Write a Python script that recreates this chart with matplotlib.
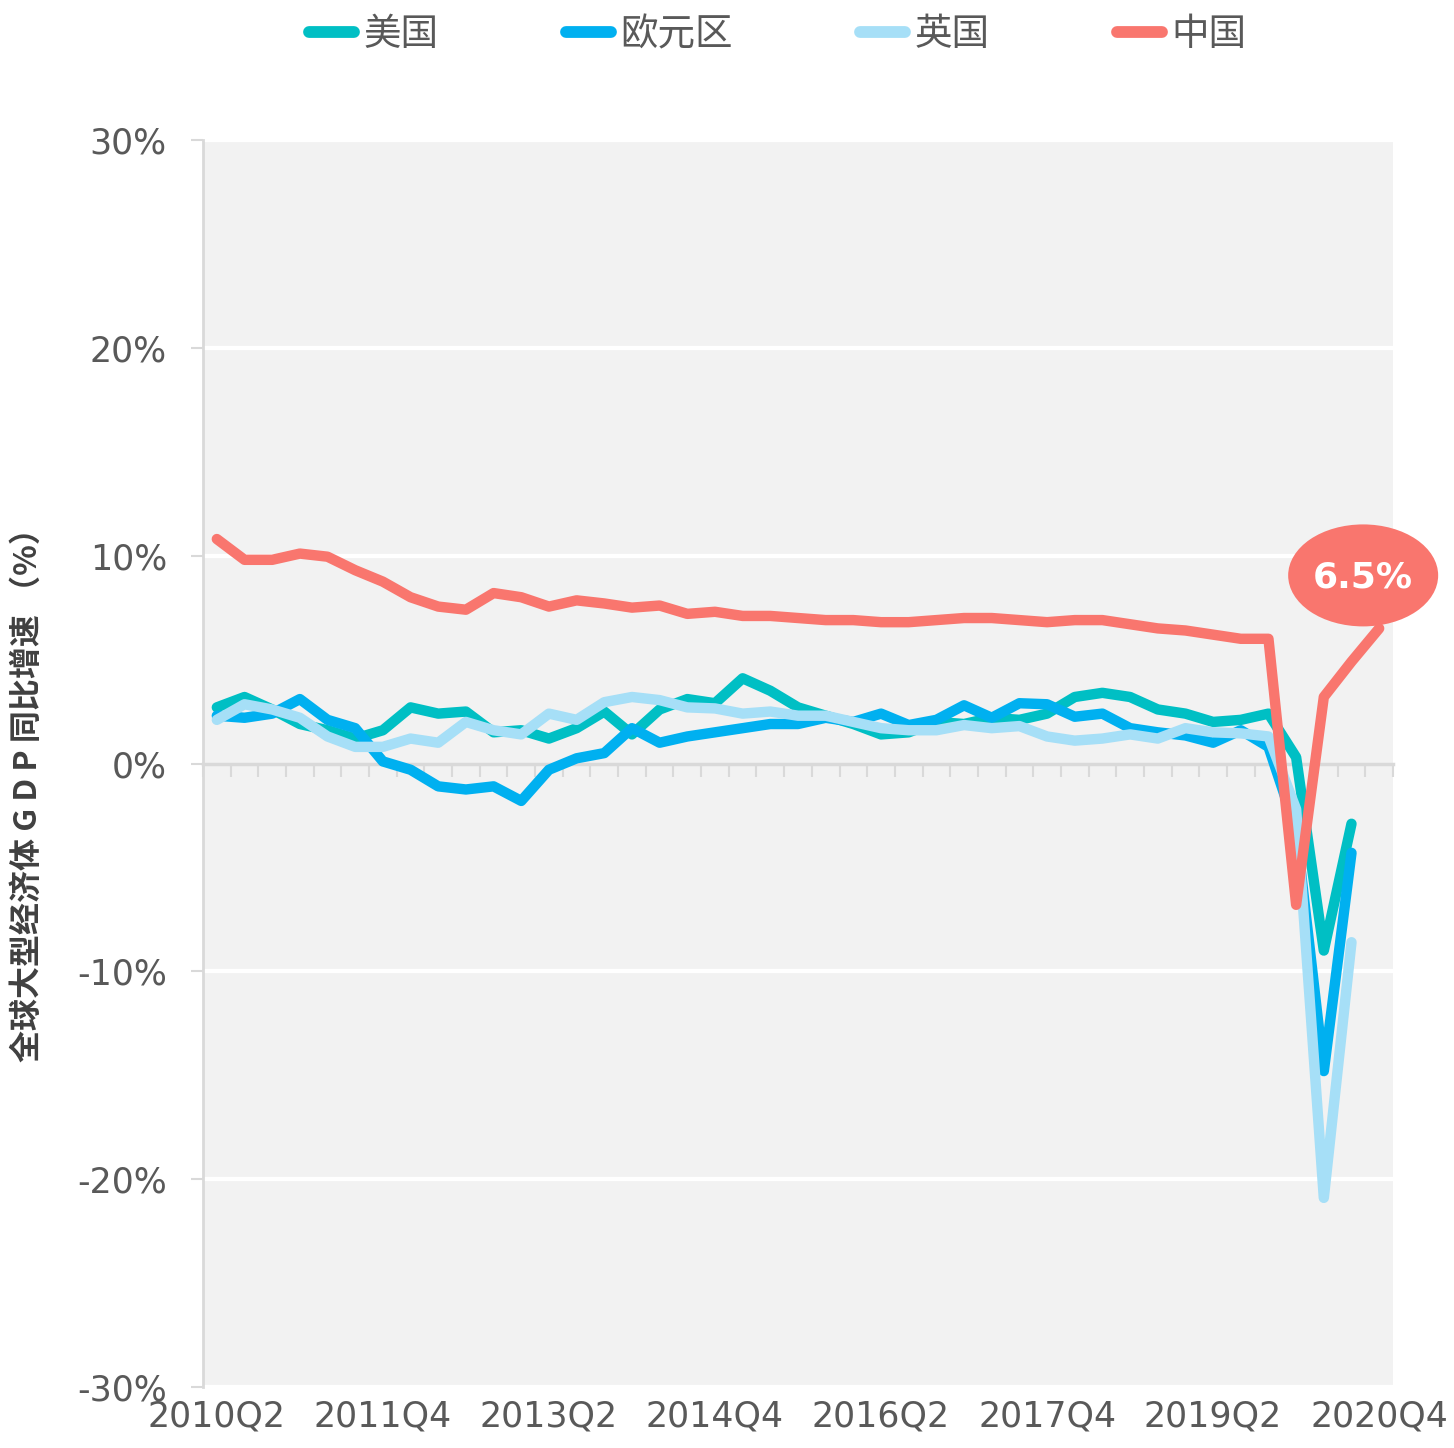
import numpy as np
import matplotlib
matplotlib.use("Agg")
import matplotlib.pyplot as plt
from matplotlib.patches import Ellipse
import matplotlib.transforms as mtransforms

plt.rcParams['font.family'] = ['Noto Sans CJK SC', 'DejaVu Sans']

# ---------------- data ----------------
quarters = [f"{y}Q{q}" for y in range(2010, 2021) for q in range(1, 5)][1:]  # 2010Q2..2020Q4
tick_labels = ["2010Q2", "2011Q4", "2013Q2", "2014Q4", "2016Q2", "2017Q4", "2019Q2", "2020Q4"]

series_names = ["美国", "欧元区", "英国", "中国"]

us = [2.7, 3.2, 2.6, 1.9, 1.6, 1.2, 1.6, 2.7, 2.4, 2.5, 1.5, 1.6, 1.2, 1.7, 2.5,
      1.4, 2.6, 3.1, 2.9, 4.1, 3.5, 2.7, 2.3, 1.9, 1.4, 1.5, 2.0, 1.9, 2.2, 2.1,
      2.4, 3.2, 3.4, 3.2, 2.6, 2.4, 2.0, 2.1, 2.4, 0.3, -9.0, -2.9]
euro = [2.3, 2.2, 2.4, 3.1, 2.1, 1.7, 0.1, -0.3, -1.1, -1.25, -1.1, -1.8, -0.3, 0.25, 0.5,
        1.7, 1.0, 1.3, 1.5, 1.7, 1.9, 1.9, 2.2, 2.0, 2.4, 1.85, 2.1, 2.8, 2.2, 2.9,
        2.85, 2.25, 2.4, 1.7, 1.5, 1.35, 1.0, 1.6, 0.8, -3.2, -14.8, -4.3]
uk = [2.1, 2.85, 2.6, 2.2, 1.3, 0.8, 0.8, 1.2, 1.0, 2.0, 1.6, 1.4, 2.4, 2.1, 2.95,
      3.2, 3.05, 2.7, 2.65, 2.4, 2.5, 2.3, 2.3, 2.0, 1.7, 1.6, 1.6, 1.85, 1.7, 1.8,
      1.3, 1.1, 1.2, 1.4, 1.2, 1.7, 1.5, 1.45, 1.3, -2.2, -20.9, -8.6]
china = [10.8, 9.8, 9.8, 10.1, 9.95, 9.3, 8.75, 8.0, 7.55, 7.4, 8.2, 8.0, 7.55, 7.85, 7.7,
         7.5, 7.6, 7.2, 7.3, 7.1, 7.1, 7.0, 6.9, 6.9, 6.8, 6.8, 6.9, 7.0, 7.0, 6.9,
         6.8, 6.9, 6.9, 6.7, 6.5, 6.4, 6.2, 6.0, 6.0, -6.8, 3.2, 4.9, 6.5]

colors = ["#00BFC4", "#00B0F0", "#A6DFF7", "#F9766E"]
yticks = [-30, -20, -10, 0, 10, 20, 30]
callout_text = "6.5%"

# ---------------- figure ----------------
W, H = 1454, 1448
fig = plt.figure(figsize=(W / 100, H / 100), dpi=100)
ax = fig.add_axes([203 / W, 1 - 1387 / H, 1190 / W, 1247 / H])
ax.set_facecolor("#f2f2f2")
ax.set_xlim(-0.5, len(quarters) - 0.5)
ax.set_ylim(-30, 30)

for v in yticks:
    if v != 0:
        ax.axhline(v, color="white", lw=3, zorder=0.5)

lines = []
for name, vals, c in zip(series_names, [us, euro, uk, china], colors):
    x = np.arange(len(vals))
    ln, = ax.plot(x, vals, color=c, lw=7.5, solid_capstyle="round",
                  solid_joinstyle="round", label=name, zorder=3)
    lines.append(ln)

for s in ["top", "right", "bottom"]:
    ax.spines[s].set_visible(False)
ax.spines["left"].set_color("#d9d9d9")
ax.spines["left"].set_linewidth(2)

ax.set_yticks(yticks)
ax.set_yticklabels([f"{v}%" for v in yticks])
ax.tick_params(axis="y", length=9, width=1.5, color="#d9d9d9",
               labelsize=25, labelcolor="#595959", pad=17)
ax.set_xticks([quarters.index(t) for t in tick_labels])
ax.set_xticklabels(tick_labels, fontfamily="DejaVu Sans")
ax.tick_params(axis="x", length=0, labelsize=25, labelcolor="#595959", pad=9)
for lab in ax.get_yticklabels():
    lab.set_fontfamily("DejaVu Sans")

# zero axis line with category tick marks
sec = ax.secondary_xaxis(0.5)
sec.set_alignment("bottom")
sec.set_xticks(np.arange(-0.5, len(quarters), 1.0))
sec.tick_params(axis="x", length=9, width=1.5, color="#d9d9d9",
                labelbottom=False, labeltop=False, direction="out")
for s in sec.spines.values():
    s.set_color("#d9d9d9")
    s.set_linewidth(2.5)
sec.patch.set_visible(False)
sec.set_zorder(1)

# callout bubble for the final China value
xe, ye = len(china) - 1, china[-1]
bubble_trans = fig.dpi_scale_trans + mtransforms.ScaledTranslation(xe, ye, ax.transData)
ell = Ellipse((-0.16, 0.53), 1.50, 1.02, transform=bubble_trans,
              facecolor=colors[3], edgecolor="none", clip_on=False, zorder=5)
ax.add_artist(ell)
ax.annotate(callout_text, xy=(xe, ye), xytext=(-12, 37), textcoords="offset points",
            ha="center", va="center", color="white", fontsize=26,
            fontweight="bold", fontfamily="DejaVu Sans", zorder=6,
            annotation_clip=False)

# legend
leg = fig.legend(handles=lines, loc="center", bbox_to_anchor=(0.535, 0.976),
                 ncol=4, frameon=False, fontsize=27, handlelength=1.2,
                 handletextpad=0.25, columnspacing=3.4)
for t in leg.get_texts():
    t.set_color("#595959")
for l in leg.get_lines():
    l.set_linewidth(8.5)
    l.set_solid_capstyle("round")

# y label
fig.text(28 / W, 1 - 787 / H, "全球大型经济体 G D P 同比增速 （%）", rotation=90,
         ha="center", va="center", fontsize=23, fontweight="bold", color="#404040")

fig.savefig("out.png", dpi=100)
